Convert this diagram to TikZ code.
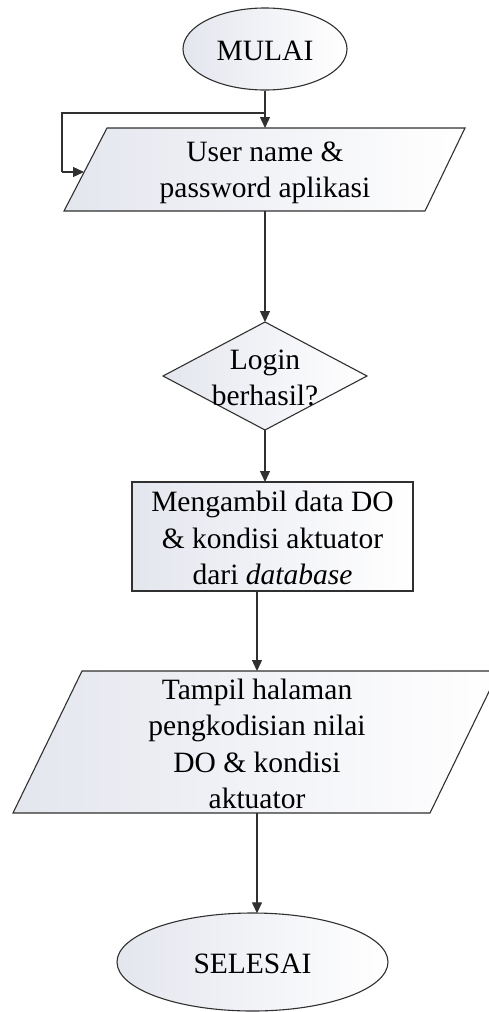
\documentclass[tikz,border=0pt]{standalone}
\usepackage{fontspec}
\setmainfont{Liberation Serif}
\usetikzlibrary{shapes.geometric,arrows.meta}
\definecolor{lineclr}{HTML}{303030}
\definecolor{shadeL}{HTML}{E4E6EE}
\tikzset{
  shp/.style={draw=lineclr, line width=1.1pt, left color=shadeL, right color=white},
  term/.style={shp, ellipse, inner sep=0pt},
  txt/.style={align=center, font=\fontsize{29.5}{36.5}\selectfont, text=black, inner sep=0pt},
  arr/.style={draw=lineclr, line width=1.3pt, -{Triangle[length=11pt,width=10pt]}},
  ln/.style={draw=lineclr, line width=1.3pt}
}
\begin{document}
\begin{tikzpicture}[x=1pt,y=-1pt]
\useasboundingbox (0,0) rectangle (489,1012);
% start
\node[term, minimum width=164pt, minimum height=82pt] (start) at (265,49) {};
\node[txt] (starttxt) at (265,51) {MULAI};
% input parallelogram
\coordinate (p1a) at (107,128);
\coordinate (p1b) at (465,128);
\coordinate (p1c) at (425,211);
\coordinate (p1d) at (64,211);
\path[shp] (p1a) -- (p1b) -- (p1c) -- (p1d) -- cycle;
\node[txt] (inp) at (265,173) {User name \&\\password aplikasi};
\coordinate (p1top) at (265,128);
\coordinate (p1bot) at (265,211);
\coordinate (p1left) at (84,172);
% diamond
\coordinate (dt) at (265,322);
\coordinate (dr) at (367,376);
\coordinate (db) at (265,430);
\coordinate (dl) at (163,376);
\path[shp] (dt) -- (dr) -- (db) -- (dl) -- cycle;
\node[txt] (dec) at (265,378) {Login\\berhasil?};
% process
\node[shp, rectangle, minimum width=281pt, minimum height=109pt, inner sep=0pt] (proc) at (272.5,536.5) {};
\node[txt] (proctxt) at (272.5,538) {Mengambil data DO\\\& kondisi aktuator\\dari \textit{database}};
\coordinate (proctop) at (265,482);
\coordinate (procbot) at (257,591);
% output parallelogram
\coordinate (p2a) at (82,671);
\coordinate (p2b) at (499,671);
\coordinate (p2c) at (430,813);
\coordinate (p2d) at (13,813);
\path[shp] (p2a) -- (p2b) -- (p2c) -- (p2d) -- cycle;
\node[txt] (out) at (257,744) {Tampil halaman\\pengkodisian nilai\\DO \& kondisi\\aktuator};
\coordinate (p2top) at (257,671);
\coordinate (p2bot) at (257,813);
% end
\node[term, minimum width=271pt, minimum height=98pt] (stop) at (252.5,962) {};
\node[txt] (stoptxt) at (252.5,964) {SELESAI};
\coordinate (stoptop) at (257,913.3);
% connectors
\coordinate (loopj) at (265,113);
\coordinate (loopa) at (62,113);
\coordinate (loopb) at (62,172);
\draw[arr] (start.south) -- (p1top);
\draw[ln] (loopj) -- (loopa) -- (loopb);
\draw[arr] (loopb) -- (p1left);
\draw[arr] (p1bot) -- (dt);
\draw[arr] (db) -- (proctop);
\draw[arr] (procbot) -- (p2top);
\draw[arr] (p2bot) -- (stoptop);
\end{tikzpicture}
\end{document}
